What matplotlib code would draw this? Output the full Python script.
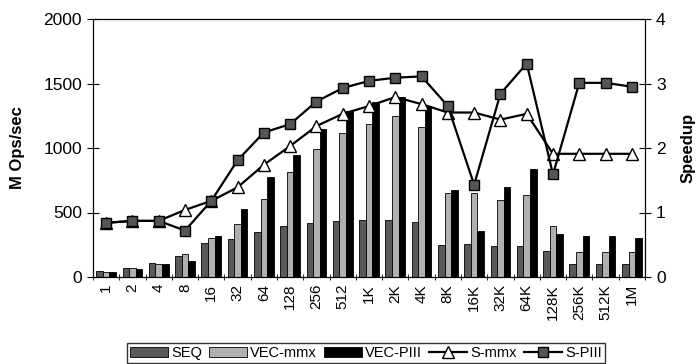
import numpy as np
import matplotlib
matplotlib.use('Agg')
import matplotlib.pyplot as plt

plt.rcParams['font.family'] = ['Liberation Sans', 'DejaVu Sans']

sizes = ['1', '2', '4', '8', '16', '32', '64', '128', '256', '512', '1K', '2K',
         '4K', '8K', '16K', '32K', '64K', '128K', '256K', '512K', '1M']

seq = [45, 72, 108, 165, 264, 292, 346, 395, 420, 436, 441, 441,
       426, 248, 253, 238, 243, 204, 98, 98, 98]
vec_mmx = [42, 70, 100, 178, 305, 408, 602, 812, 995, 1120, 1188, 1248,
           1164, 653, 653, 596, 636, 398, 196, 196, 190]
vec_piii = [38, 65, 100, 124, 316, 527, 777, 943, 1150, 1290, 1356, 1395,
            1322, 674, 358, 695, 835, 333, 318, 318, 305]

s_mmx = [0.84, 0.87, 0.87, 1.04, 1.18, 1.39, 1.74, 2.03, 2.34, 2.53, 2.65, 2.79,
         2.68, 2.55, 2.55, 2.44, 2.53, 1.91, 1.91, 1.91, 1.91]
s_piii = [0.84, 0.87, 0.87, 0.72, 1.18, 1.81, 2.24, 2.37, 2.72, 2.93, 3.04, 3.09,
          3.11, 2.65, 1.43, 2.84, 3.31, 1.59, 3.01, 3.01, 2.95]

x = np.arange(len(sizes))
w = 0.25

fig = plt.figure(figsize=(6.98, 3.64), dpi=100)
ax = fig.add_axes([93 / 698, 1 - 277 / 364, (645 - 93) / 698, (277 - 19) / 364])

b1 = ax.bar(x - w, seq, w, color='#595959', edgecolor='black', linewidth=0.6, label='SEQ')
b2 = ax.bar(x, vec_mmx, w, color='#b0b0b0', edgecolor='black', linewidth=0.6, label='VEC-mmx')
b3 = ax.bar(x + w, vec_piii, w, color='black', edgecolor='black', linewidth=0.6, label='VEC-PIII')

ax.set_xlim(-0.5, len(sizes) - 0.5)
ax.set_ylim(0, 2000)
ax.set_yticks([0, 500, 1000, 1500, 2000])
ax.set_xticks(x)
ax.set_xticklabels(sizes, rotation=90, fontsize=11)
ax.set_xticks(np.arange(len(sizes) + 1) - 0.5, minor=True)
ax.tick_params(axis='x', which='major', length=0, pad=5)
ax.tick_params(axis='x', which='minor', length=5, direction='inout')
ax.tick_params(axis='y', direction='inout', length=8, labelsize=12.5, pad=4)
ax.set_ylabel('M Ops/sec', fontsize=12, fontweight='bold')
ax.yaxis.set_label_coords(-0.124, 0.5)

ax2 = ax.twinx()
l1, = ax2.plot(x, s_mmx, color='black', linewidth=1.6, marker='^', markersize=8,
               markerfacecolor='white', markeredgecolor='black', label='S-mmx')
l2, = ax2.plot(x, s_piii, color='black', linewidth=1.6, marker='s', markersize=6.5,
               markerfacecolor='#555555', markeredgecolor='black', label='S-PIII')
ax2.set_ylim(0, 4)
ax2.set_yticks([0, 1, 2, 3, 4])
ax2.tick_params(axis='y', direction='inout', length=8, labelsize=12.5, pad=4)
ax2.set_ylabel('Speedup', fontsize=12, fontweight='bold')
ax2.yaxis.set_label_coords(1.064, 0.5)

for a in (ax, ax2):
    for s in a.spines.values():
        s.set_linewidth(0.8)

fig.legend(handles=[b1, b2, b3, l1, l2], loc='center',
           bbox_to_anchor=(366 / 698, 1 - 353 / 364), ncol=5, frameon=True,
           fancybox=False, edgecolor='black', fontsize=10.5, handlelength=2.6,
           handletextpad=0.2, columnspacing=0.5, borderpad=0.2)

fig.savefig('out.png', dpi=100)
